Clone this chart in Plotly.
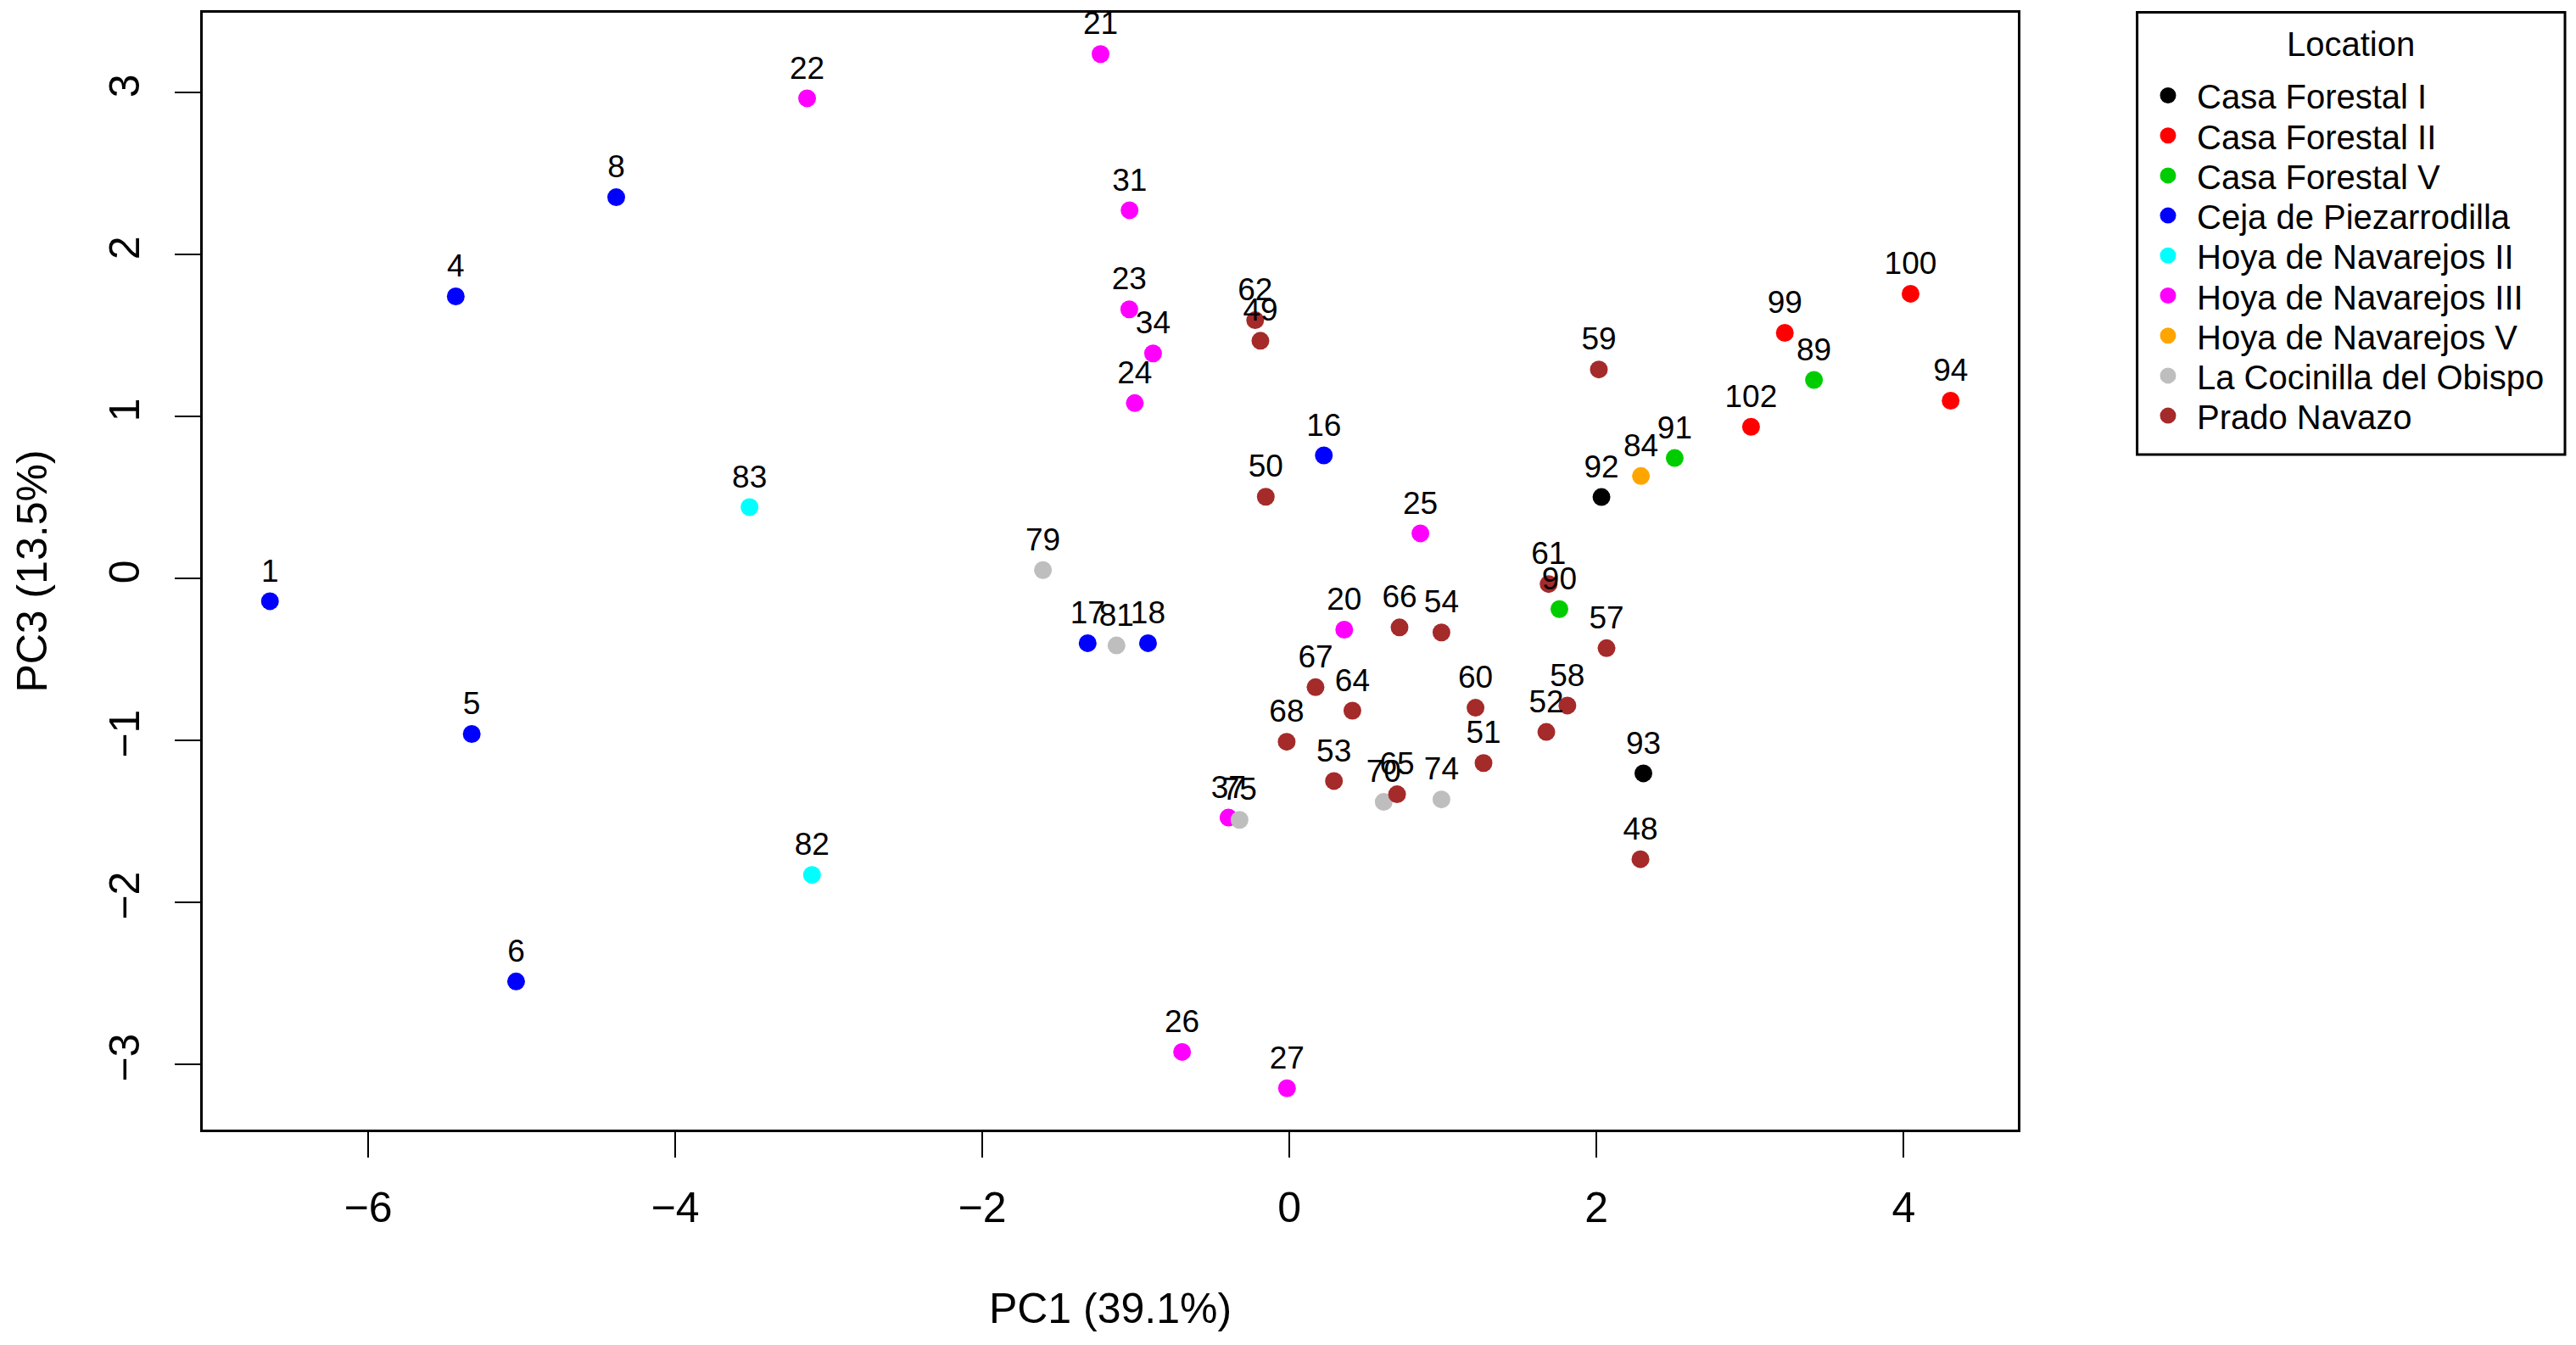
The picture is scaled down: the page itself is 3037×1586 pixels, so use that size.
import plotly.graph_objects as go

# ---- data ----
location_names = [
    "Casa Forestal I", "Casa Forestal II", "Casa Forestal V",
    "Ceja de Piezarrodilla", "Hoya de Navarejos II", "Hoya de Navarejos III",
    "Hoya de Navarejos V", "La Cocinilla del Obispo", "Prado Navazo",
]

point_ids = [1, 4, 5, 6, 8, 16, 17, 18,
             20, 21, 22, 23, 24, 25, 26, 27, 31, 34, 37,
             48, 49, 50, 51, 52, 53, 54, 57, 58, 59, 60, 61, 62, 64, 65, 66, 67, 68,
             70, 74, 75, 79, 81,
             82, 83,
             84,
             89, 90, 91,
             92, 93,
             94, 99, 100, 102]

pc1 = [-6.639, -5.429, -5.325, -5.036, -4.384, 0.224, -1.314, -0.921,
       0.357, -1.230, -3.141, -1.043, -1.007, 0.853, -0.699, -0.016, -1.041, -0.888, -0.397,
       2.286, -0.189, -0.154, 1.264, 1.673, 0.290, 0.990, 2.065, 1.810, 2.015, 1.212, 1.688,
       -0.223, 0.410, 0.701, 0.717, 0.170, -0.018,
       0.614, 0.990, -0.325, -1.605, -1.126,
       -3.109, -3.516,
       2.289,
       3.416, 1.758, 2.509,
       2.032, 2.305,
       4.306, 3.226, 4.045, 3.006]

pc3 = [-0.142, 1.740, -0.962, -2.490, 2.352, 0.758, -0.401, -0.401,
       -0.318, 3.236, 2.963, 1.660, 1.081, 0.277, -2.925, -3.149, 2.272, 1.388, -1.478,
       -1.735, 1.466, 0.503, -1.141, -0.949, -1.252, -0.335, -0.432, -0.786, 1.289, -0.800, -0.036,
       1.593, -0.818, -1.334, -0.304, -0.673, -1.010,
       -1.381, -1.366, -1.492, 0.050, -0.415,
       -1.832, 0.439,
       0.631,
       1.224, -0.191, 0.742,
       0.501, -1.205,
       1.096, 1.515, 1.756, 0.935]

location = (["Ceja de Piezarrodilla"] * 8
            + ["Hoya de Navarejos III"] * 11
            + ["Prado Navazo"] * 18
            + ["La Cocinilla del Obispo"] * 5
            + ["Hoya de Navarejos II"] * 2
            + ["Hoya de Navarejos V"] * 1
            + ["Casa Forestal V"] * 3
            + ["Casa Forestal I"] * 2
            + ["Casa Forestal II"] * 4)

x_tick_vals = [-6, -4, -2, 0, 2, 4]
y_tick_vals = [-3, -2, -1, 0, 1, 2, 3]
x_title = "PC1 (39.1%)"
y_title = "PC3 (13.5%)"
legend_title = "Location"

# ---- styles / layout ----
colors = {
    "Casa Forestal I": "#000000",
    "Casa Forestal II": "#FF0000",
    "Casa Forestal V": "#00CD00",
    "Ceja de Piezarrodilla": "#0000FF",
    "Hoya de Navarejos II": "#00FFFF",
    "Hoya de Navarejos III": "#FF00FF",
    "Hoya de Navarejos V": "#FFA500",
    "La Cocinilla del Obispo": "#BEBEBE",
    "Prado Navazo": "#A52A2A",
}
FONT = "Liberation Sans, Arial, sans-serif"
MS = 21

W, H = 3029, 1578           # page body has an 8px margin
ML, MR, MT, MB = 231, 658, 7, 254
PW, PH = W - ML - MR, H - MT - MB


def px_x(fx):
    return (fx - ML) / PW


def px_y(fy):
    return 1 - (fy - MT) / PH


fig = go.Figure()
for name in location_names:
    xs = [pc1[i] for i in range(len(point_ids)) if location[i] == name]
    ys = [pc3[i] for i in range(len(point_ids)) if location[i] == name]
    fig.add_trace(go.Scatter(
        x=xs, y=ys, mode="markers", name=name, showlegend=False,
        marker=dict(color=colors[name], size=MS, line=dict(width=0)),
    ))

# labels drawn on top of all points (like R's text())
fig.add_trace(go.Scatter(
    x=pc1, y=pc3, mode="markers+text", text=[str(i) for i in point_ids],
    textposition="top center", showlegend=False, hoverinfo="skip",
    cliponaxis=False,
    marker=dict(size=MS, color="rgba(0,0,0,0)"),
    textfont=dict(family=FONT, size=37, color="black"),
))


def padded(vals):
    lo, hi = min(vals), max(vals)
    r = hi - lo
    return [lo - 0.04 * r, hi + 0.04 * r]


axis_common = dict(
    showline=True, mirror=True, linecolor="black", linewidth=3,
    ticks="outside", ticklen=30, tickwidth=2, tickcolor="black",
    showgrid=False, zeroline=False, automargin=False,
    tickfont=dict(family=FONT, size=50, color="black"),
)

# ---- legend box (R-style) ----
shapes = []
annotations = []
box_l, box_r, box_t, box_b = 2511.6, 3016, 6.5, 528
shapes.append(dict(type="rect", xref="paper", yref="paper",
                   x0=px_x(box_l), x1=px_x(box_r), y0=px_y(box_b), y1=px_y(box_t),
                   line=dict(color="black", width=3), fillcolor="white", layer="above"))
annotations.append(dict(xref="paper", yref="paper", x=px_x((box_l + box_r) / 2), y=px_y(43.7),
                        text=legend_title, showarrow=False, xanchor="center", yanchor="middle",
                        font=dict(family=FONT, size=40, color="black")))
for k, name in enumerate(location_names):
    ry = 106.5 + 47.2 * k
    shapes.append(dict(type="circle", xref="paper", yref="paper",
                       xsizemode="pixel", ysizemode="pixel",
                       xanchor=px_x(2548), yanchor=px_y(ry - 2),
                       x0=-9.5, x1=9.5, y0=-9.5, y1=9.5,
                       fillcolor=colors[name], line=dict(width=0), layer="above"))
    annotations.append(dict(xref="paper", yref="paper", x=px_x(2580), y=px_y(ry),
                            text=name, showarrow=False, xanchor="left", yanchor="middle",
                            font=dict(family=FONT, size=40, color="black")))

fig.update_layout(
    width=W, height=H,
    margin=dict(l=ML, r=MR, t=MT, b=MB, autoexpand=False),
    plot_bgcolor="white", paper_bgcolor="white",
    font=dict(family=FONT, color="black"),
    showlegend=False,
    xaxis=dict(range=padded(pc1), tickvals=x_tick_vals,
               title=dict(text=x_title, font=dict(family=FONT, size=50), standoff=74),
               ticklabelstandoff=16, **axis_common),
    yaxis=dict(range=padded(pc3), tickvals=y_tick_vals, tickangle=-90,
               title=dict(text=y_title, font=dict(family=FONT, size=50), standoff=48),
               ticklabelstandoff=22, **axis_common),
    shapes=shapes,
    annotations=annotations,
)

fig.write_html("out.html")
